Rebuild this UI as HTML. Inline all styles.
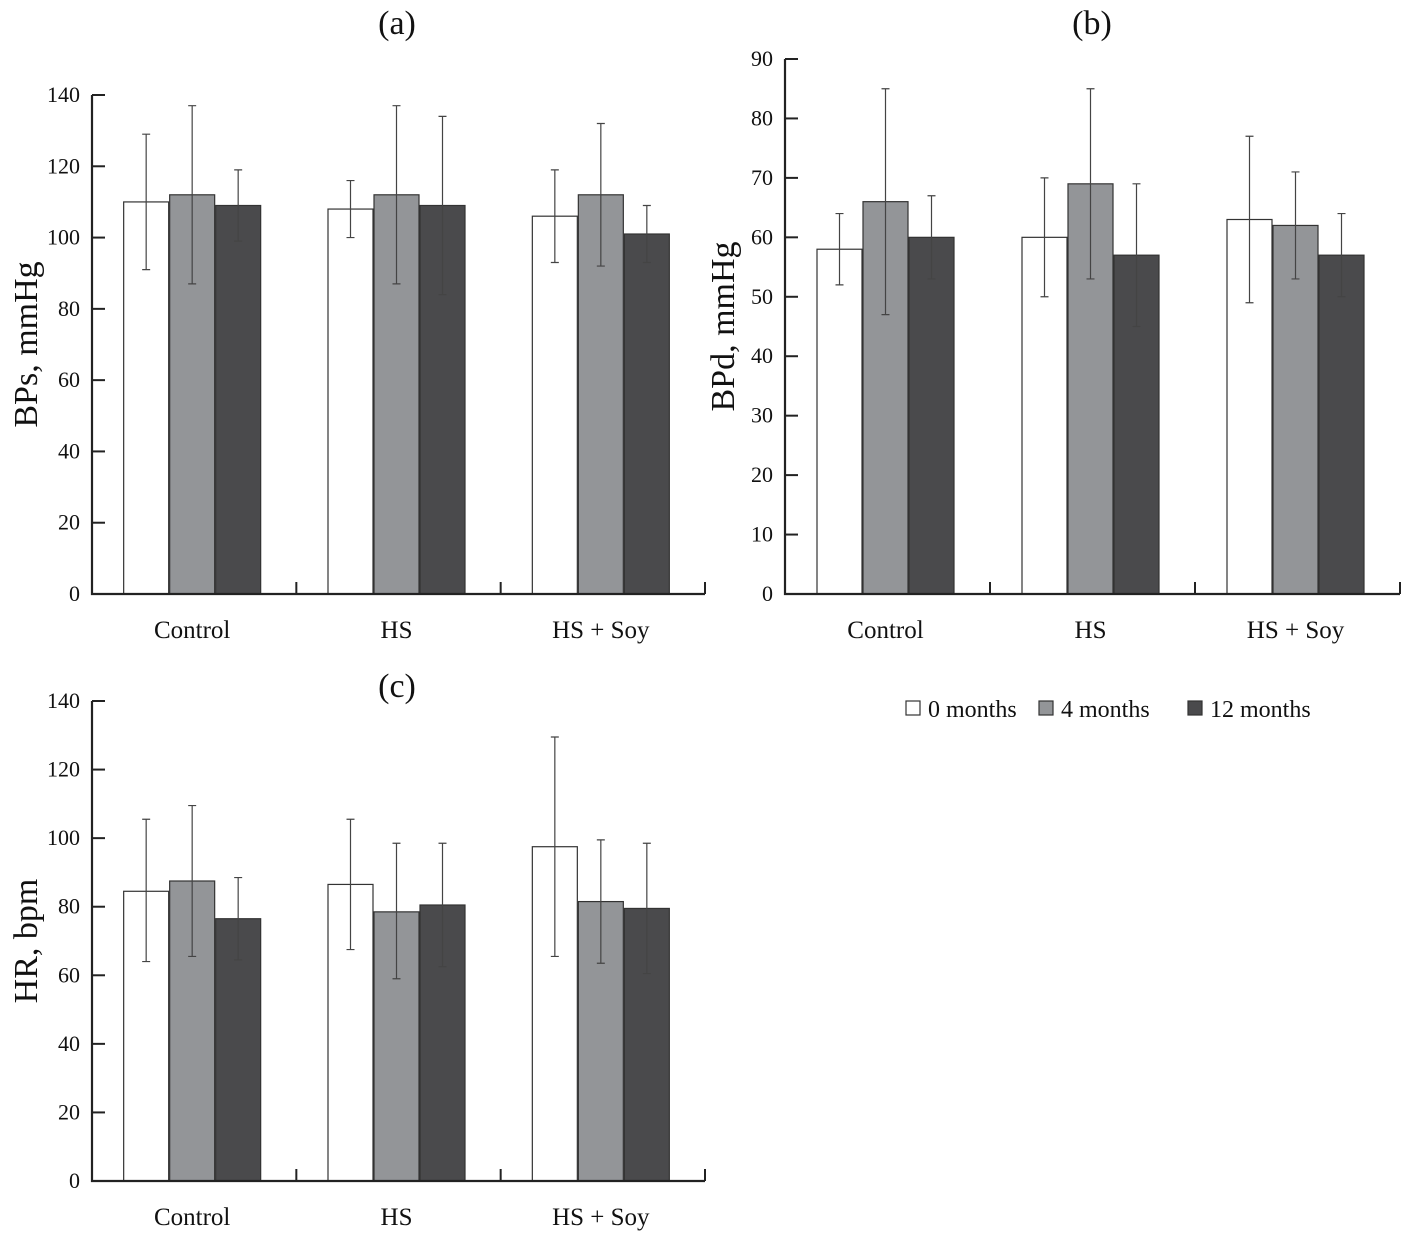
<!DOCTYPE html>
<html><head><meta charset="utf-8"><style>
body{margin:0;background:#fff;}
svg text{font-family:"Liberation Serif",serif;fill:#111;}
</style></head><body>
<svg id="chart" width="1409" height="1232" xmlns="http://www.w3.org/2000/svg"></svg>
<script>
const categories = ["Control", "HS", "HS + Soy"];
const seriesNames = ["0 months", "4 months", "12 months"];
const colors = ["#ffffff", "#939598", "#4a4a4c"];
const bpsMeans = [[110,112,109],[108,112,109],[106,112,101]];
const bpsLow = [[91,87,99],[100,87,84],[93,92,93]];
const bpsHigh = [[129,137,119],[116,137,134],[119,132,109]];
const bpdMeans = [[58,66,60],[60,69,57],[63,62,57]];
const bpdLow = [[52,47,53],[50,53,45],[49,53,50]];
const bpdHigh = [[64,85,67],[70,85,69],[77,71,64]];
const hrMeans = [[84.5,87.5,76.5],[86.5,78.5,80.5],[97.5,81.5,79.5]];
const hrLow = [[64,65.5,64.5],[67.5,59,62.5],[65.5,63.5,60.5]];
const hrHigh = [[105.5,109.5,88.5],[105.5,98.5,98.5],[129.5,99.5,98.5]];
const ticksA = [0,20,40,60,80,100,120,140];
const ticksB = [0,10,20,30,40,50,60,70,80,90];

const svg = document.getElementById('chart');
const NS = "http://www.w3.org/2000/svg";
function mk(tag, attrs, parent){const e=document.createElementNS(NS,tag);for(const k in attrs)e.setAttribute(k,attrs[k]);(parent||svg).appendChild(e);return e;}

function panel(id, cfg){
  const g = mk('g',{});
  
  
  const y = v => cfg.y0 - (v/cfg.max)*(cfg.y0-cfg.yTop);
  const groupW = (cfg.xEnd-cfg.x0)/3;
  const barW = 45;
  categories.forEach((c,ci)=>{
    const gx0 = cfg.x0 + ci*groupW + (groupW - 3*barW - 2)/2 - 2;
    cfg.means[ci].forEach((m,si)=>{
      const bx = gx0 + si*(barW+1);
      const r = mk('rect',{x:bx,y:y(m),width:barW,height:cfg.y0-y(m),fill:colors[si],stroke:"#333","stroke-width":1.2},g);
      
      
      const cx = bx+barW/2;
      const eb = mk('path',{d:`M${cx},${y(cfg.low[ci][si])}V${y(cfg.high[ci][si])}M${cx-4},${y(cfg.high[ci][si])}H${cx+4}M${cx-4},${y(cfg.low[ci][si])}H${cx+4}`,stroke:"#444","stroke-width":1.2,fill:"none"},g);
      
      
    });
    const lab = mk('text',{x:cfg.x0+ci*groupW+groupW/2-2,y:cfg.y0+44,"font-size":25,"text-anchor":"middle"},g);
    lab.textContent = c;
    
    
    if(ci>0){mk('line',{x1:cfg.x0+ci*groupW,x2:cfg.x0+ci*groupW,y1:cfg.y0,y2:cfg.y0-12,stroke:"#222","stroke-width":2},g);}
  });
  mk('line',{x1:cfg.xEnd,x2:cfg.xEnd,y1:cfg.y0,y2:cfg.y0-12,stroke:"#222","stroke-width":2},g);
  const ax = mk('path',{d:`M${cfg.x0},${cfg.yTop}V${cfg.y0}H${cfg.xEnd}`,stroke:"#222","stroke-width":2.2,fill:"none"},g);
  
  
  cfg.ticks.forEach(t=>{
    mk('line',{x1:cfg.x0,x2:cfg.x0+13,y1:y(t),y2:y(t),stroke:"#222","stroke-width":2},g);
    const tl = mk('text',{x:cfg.x0-12,y:y(t)+7,"font-size":22,"text-anchor":"end"},g);
    tl.textContent = t;
    
    
  });
  const yt = mk('text',{x:0,y:0,"font-size":34,"text-anchor":"middle",transform:`translate(${cfg.titleX},${(cfg.y0+cfg.yTop)/2}) rotate(-90)`},g);
  yt.textContent = cfg.ytitle;
  
  
  const pt = mk('text',{x:cfg.labelX,y:cfg.labelY,"font-size":34,"text-anchor":"middle"},g);
  pt.textContent = cfg.label;
  
  
}
panel('bps',{x0:92,xEnd:705,y0:594,yTop:95,max:140,ticks:ticksA,means:bpsMeans,low:bpsLow,high:bpsHigh,ytitle:"BPs, mmHg",titleX:37,label:"(a)",labelX:397,labelY:34});
panel('bpd',{x0:785,xEnd:1400,y0:594,yTop:59,max:90,ticks:ticksB,means:bpdMeans,low:bpdLow,high:bpdHigh,ytitle:"BPd, mmHg",titleX:734,label:"(b)",labelX:1092,labelY:34});
panel('hr',{x0:92,xEnd:705,y0:1181,yTop:701,max:140,ticks:ticksA,means:hrMeans,low:hrLow,high:hrHigh,ytitle:"HR, bpm",titleX:37,label:"(c)",labelX:397,labelY:697});
const lg = mk('g',{});


const lx=[906,1039,1188];
seriesNames.forEach((n,i)=>{
  const r = mk('rect',{x:lx[i],y:701,width:14,height:14,fill:colors[i],stroke:"#333","stroke-width":1.2},lg);
  
  
  const t = mk('text',{x:lx[i]+22,y:717,"font-size":24},lg);
  t.textContent = n;
  
  
});
</script>
</body></html>
